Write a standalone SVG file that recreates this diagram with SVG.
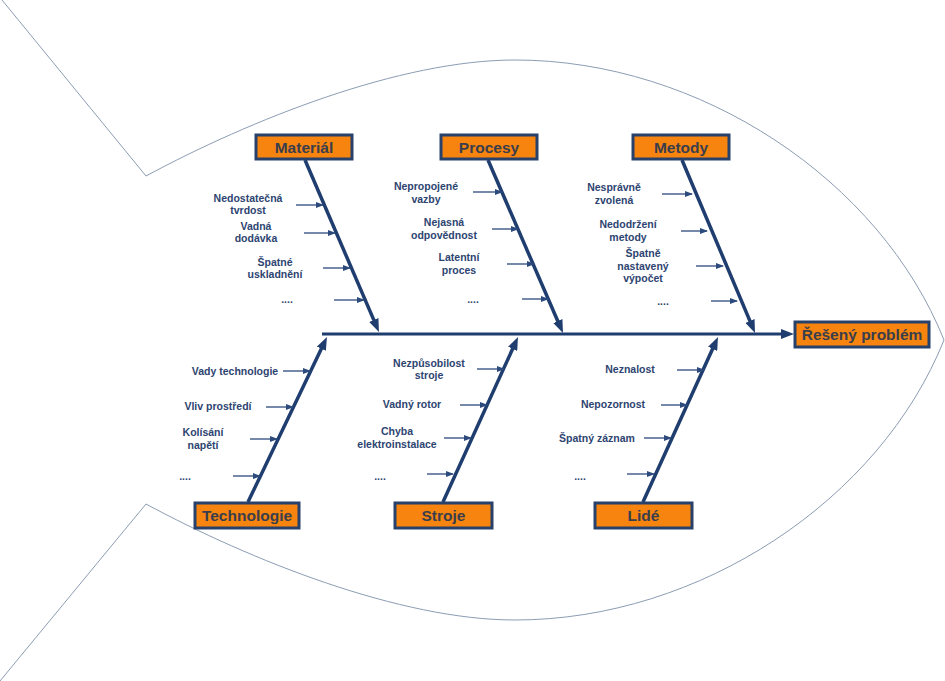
<svg xmlns="http://www.w3.org/2000/svg" width="945" height="681" viewBox="0 0 945 681">
<style>
.fish{fill:none;stroke:#8c9db3;stroke-width:1}
.box{fill:#f7840f;stroke:#27416a;stroke-width:3}
.bt{font-family:"Liberation Sans",Arial,sans-serif;font-weight:bold;font-size:15.5px;fill:#3a3e4c;text-anchor:middle}
.lb{font-family:"Liberation Sans",Arial,sans-serif;font-weight:bold;font-size:10.5px;fill:#2d4470;text-anchor:middle}
.bone{stroke:#1f3d6e;stroke-width:3.5;fill:none;marker-end:url(#big)}
.spine{stroke:#1f3d6e;stroke-width:3;fill:none;marker-end:url(#big)}
.sub{stroke:#2c4a7c;stroke-width:1.3;fill:none;marker-end:url(#small)}
</style>
<defs>
<marker id="big" markerUnits="userSpaceOnUse" markerWidth="13" markerHeight="10" refX="5" refY="5" orient="auto"><path d="M0,0 L13,5 L0,10 z" fill="#1f3d6e"/></marker>
<marker id="small" markerUnits="userSpaceOnUse" markerWidth="8" markerHeight="6" refX="7" refY="3" orient="auto"><path d="M0,0 L8,3 L0,6 z" fill="#2c4a7c"/></marker>
</defs>
<rect width="945" height="681" fill="#ffffff"/>
<g id="fish-outline">
<path class="fish" d="M2,0 L146,176 C250,120 400,60 515,60 C700,60 880,180 944,340 C880,500 700,620 515,620 C400,620 250,560 146,504 L0,681"/>
</g>
<g id="connectors">
<line class="spine" x1="322" y1="334" x2="786" y2="334"/>
<line class="bone" x1="305" y1="160" x2="375.8" y2="324.6"/>
<line class="bone" x1="488" y1="160" x2="559.8" y2="325.7"/>
<line class="bone" x1="682" y1="160" x2="751.9" y2="325.6"/>
<line class="bone" x1="248" y1="502" x2="323.5" y2="344.2"/>
<line class="bone" x1="443" y1="502" x2="514.7" y2="344.3"/>
<line class="bone" x1="643" y1="502" x2="714.7" y2="344.3"/>
<line class="sub" x1="296" y1="205" x2="323" y2="205"/>
<line class="sub" x1="304" y1="233" x2="335" y2="233"/>
<line class="sub" x1="323" y1="268" x2="350" y2="268"/>
<line class="sub" x1="334" y1="300" x2="364" y2="300"/>
<line class="sub" x1="473" y1="192" x2="502" y2="192"/>
<line class="sub" x1="492" y1="229" x2="518" y2="229"/>
<line class="sub" x1="507" y1="264" x2="534" y2="264"/>
<line class="sub" x1="522" y1="299" x2="548" y2="299"/>
<line class="sub" x1="662" y1="194" x2="692" y2="194"/>
<line class="sub" x1="681" y1="231" x2="707" y2="231"/>
<line class="sub" x1="696" y1="266" x2="723" y2="266"/>
<line class="sub" x1="711" y1="301" x2="737" y2="301"/>
<line class="sub" x1="283" y1="371" x2="310" y2="371"/>
<line class="sub" x1="266" y1="407" x2="293" y2="407"/>
<line class="sub" x1="250" y1="439" x2="277" y2="439"/>
<line class="sub" x1="233" y1="476" x2="260" y2="476"/>
<line class="sub" x1="477" y1="369" x2="504" y2="369"/>
<line class="sub" x1="460" y1="405" x2="487" y2="405"/>
<line class="sub" x1="444" y1="438" x2="471" y2="438"/>
<line class="sub" x1="427" y1="474" x2="453" y2="474"/>
<line class="sub" x1="677" y1="370" x2="704" y2="370"/>
<line class="sub" x1="661" y1="405" x2="687" y2="405"/>
<line class="sub" x1="644" y1="438" x2="671" y2="438"/>
<line class="sub" x1="627" y1="474" x2="654" y2="474"/>
</g>
<g id="material"><rect class="box" x="256" y="135" width="96" height="24"/><text class="bt" x="304" y="152.5">Materiál</text></g>
<g id="procesy"><rect class="box" x="441" y="135" width="96" height="24"/><text class="bt" x="489" y="152.5">Procesy</text></g>
<g id="metody"><rect class="box" x="633" y="135" width="96" height="24"/><text class="bt" x="681" y="152.5">Metody</text></g>
<g id="reseny-problem"><rect class="box" x="795" y="322" width="134" height="25"/><text class="bt" x="862" y="340">Řešený problém</text></g>
<g id="technologie"><rect class="box" x="195" y="503" width="104" height="25"/><text class="bt" x="247" y="521">Technologie</text></g>
<g id="stroje"><rect class="box" x="395" y="503" width="97" height="25"/><text class="bt" x="443.5" y="521">Stroje</text></g>
<g id="lide"><rect class="box" x="595" y="503" width="97" height="25"/><text class="bt" x="643.5" y="521">Lidé</text></g>
<g id="labels-material">
<text class="lb" x="248" y="202">Nedostatečná</text><text class="lb" x="248" y="214">tvrdost</text>
<text class="lb" x="256" y="230">Vadná</text><text class="lb" x="256" y="242">dodávka</text>
<text class="lb" x="275" y="266">Špatné</text><text class="lb" x="275" y="278">uskladnění</text>
<text class="lb" x="287" y="303">....</text>
</g>
<g id="labels-procesy">
<text class="lb" x="426" y="190">Nepropojené</text><text class="lb" x="426" y="203">vazby</text>
<text class="lb" x="444" y="226">Nejasná</text><text class="lb" x="444" y="239">odpovědnost</text>
<text class="lb" x="459" y="261">Latentní</text><text class="lb" x="459" y="274">proces</text>
<text class="lb" x="473" y="303">....</text>
</g>
<g id="labels-metody">
<text class="lb" x="614" y="191">Nesprávně</text><text class="lb" x="614" y="204">zvolená</text>
<text class="lb" x="628" y="228">Nedodržení</text><text class="lb" x="628" y="241">metody</text>
<text class="lb" x="643" y="257">Špatně</text><text class="lb" x="643" y="270">nastavený</text><text class="lb" x="643" y="282">výpočet</text>
<text class="lb" x="663" y="305">....</text>
</g>
<g id="labels-technologie">
<text class="lb" x="235" y="375">Vady technologie</text>
<text class="lb" x="218" y="410">Vliv prostředí</text>
<text class="lb" x="203" y="436">Kolísání</text><text class="lb" x="203" y="449">napětí</text>
<text class="lb" x="185" y="480">....</text>
</g>
<g id="labels-stroje">
<text class="lb" x="429" y="367">Nezpůsobilost</text><text class="lb" x="429" y="379">stroje</text>
<text class="lb" x="412" y="408">Vadný rotor</text>
<text class="lb" x="397" y="435">Chyba</text><text class="lb" x="397" y="448">elektroinstalace</text>
<text class="lb" x="380" y="480">....</text>
</g>
<g id="labels-lide">
<text class="lb" x="630" y="373">Neznalost</text>
<text class="lb" x="613" y="408">Nepozornost</text>
<text class="lb" x="597" y="442">Špatný záznam</text>
<text class="lb" x="580" y="480">....</text>
</g>
</svg>
